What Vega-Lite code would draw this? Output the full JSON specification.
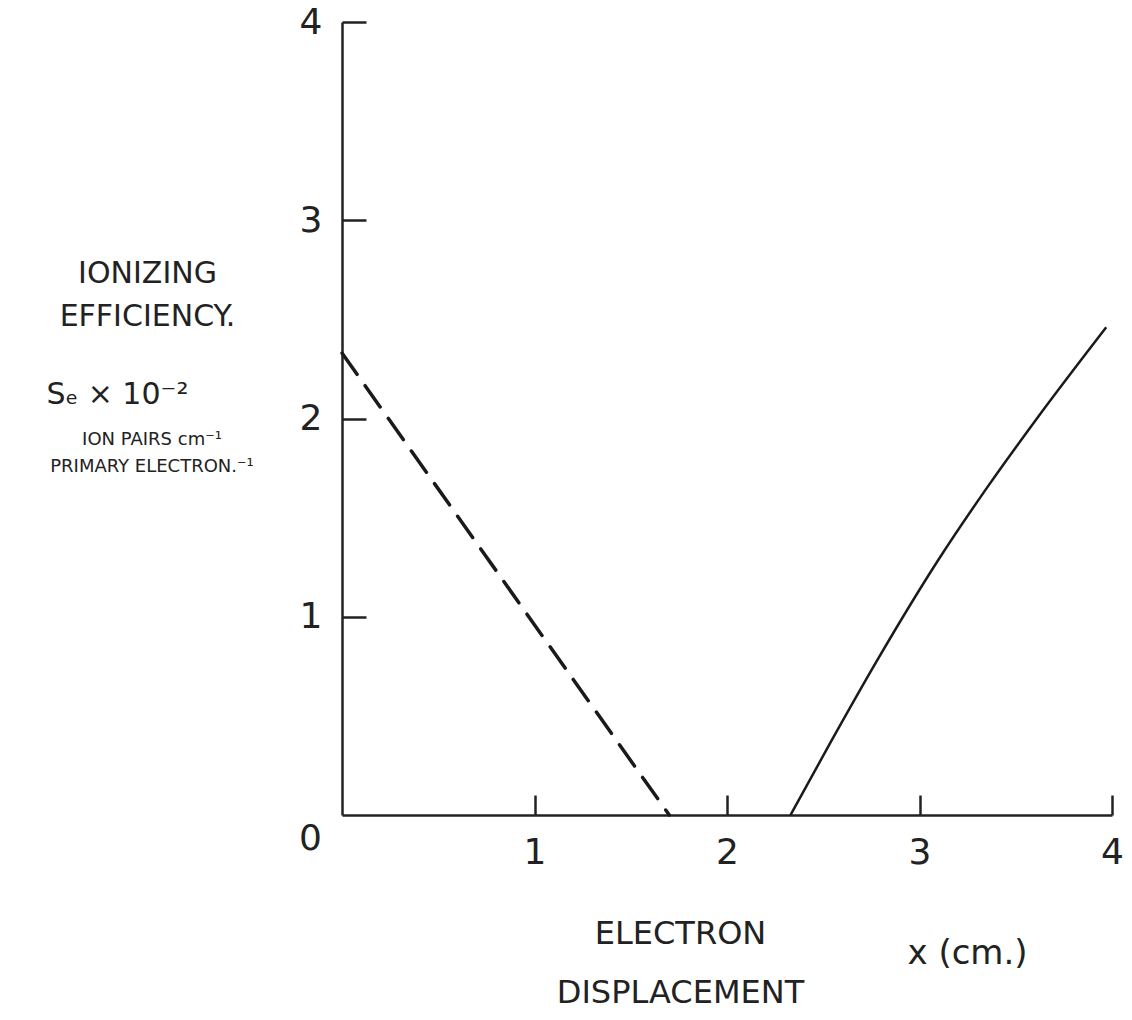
{
  "$schema": "https://vega.github.io/schema/vega-lite/v6.json",
  "width": 770,
  "height": 793,
  "autosize": "none",
  "padding": {"left": 342, "top": 22, "right": 20, "bottom": 205},
  "background": "white",
  "title": {
    "text": ["ION PAIRS cm⁻¹", "PRIMARY ELECTRON.⁻¹"],
    "orient": "top",
    "anchor": "start",
    "frame": "group",
    "align": "center",
    "baseline": "top",
    "offset": 0,
    "dx": -190,
    "dy": 472,
    "font": "DejaVu Sans",
    "fontSize": 18,
    "fontWeight": "normal",
    "lineHeight": 27,
    "color": "#222"
  },
  "config": {
    "view": {"stroke": null},
    "axis": {
      "grid": false,
      "domainColor": "#222",
      "domainWidth": 2.5,
      "tickColor": "#222",
      "tickWidth": 2.5,
      "labelColor": "#222",
      "titleColor": "#222",
      "labelFont": "DejaVu Sans",
      "titleFont": "DejaVu Sans",
      "titleFontWeight": "normal"
    }
  },
  "datasets": {
    "extrapolated": [
      {"x": 0, "y": 2.33},
      {"x": 1.7, "y": 0}
    ],
    "measured": [
      {"x": 2.33, "y": 0},
      {"x": 2.54, "y": 0.37},
      {"x": 2.78, "y": 0.78},
      {"x": 3.1, "y": 1.29},
      {"x": 3.35, "y": 1.65},
      {"x": 3.61, "y": 2.0},
      {"x": 3.97, "y": 2.46}
    ]
  },
  "resolve": {"axis": {"x": "independent", "y": "independent"}},
  "layer": [
    {
      "data": {"name": "extrapolated"},
      "mark": {"type": "line", "color": "#1a1a1a", "strokeWidth": 3.5, "strokeDash": [26, 14], "strokeCap": "round"},
      "encoding": {
        "x": {
          "field": "x", "type": "quantitative",
          "scale": {"domain": [0, 4], "nice": false},
          "axis": {
            "orient": "bottom",
            "values": [0, 1, 2, 3, 4],
            "format": "d",
            "tickSize": -20,
            "tickOpacity": {"condition": {"test": "datum.value === 0", "value": 0}, "value": 1},
            "labelFontSize": 36,
            "labelFlush": false,
            "labelOverlap": false,
            "labelPadding": {"condition": {"test": "datum.value === 0", "value": 26}, "value": 40},
            "labelOffset": {"condition": {"test": "datum.value === 0", "value": -32}, "value": 0},
            "title": ["ELECTRON", "DISPLACEMENT"],
            "titleFontSize": 32,
            "titleLineHeight": 59,
            "titleAlign": "center",
            "titleBaseline": "top",
            "titleX": 338,
            "titleY": 103
          }
        },
        "y": {
          "field": "y", "type": "quantitative",
          "scale": {"domain": [0, 4], "nice": false},
          "axis": {
            "orient": "left",
            "values": [1, 2, 3, 4],
            "format": "d",
            "tickSize": -24,
            "labelFontSize": 36,
            "labelPadding": 44,
            "labelOverlap": false,
            "title": ["IONIZING", "EFFICIENCY."],
            "titleAngle": 0,
            "titleAlign": "center",
            "titleBaseline": "top",
            "titleFontSize": 30,
            "titleLineHeight": 43,
            "titleX": -195,
            "titleY": 236
          }
        }
      }
    },
    {
      "data": {"name": "measured"},
      "mark": {"type": "line", "color": "#1a1a1a", "strokeWidth": 2.5, "interpolate": "monotone"},
      "encoding": {
        "x": {
          "field": "x", "type": "quantitative",
          "scale": {"domain": [0, 4], "nice": false},
          "axis": {
            "orient": "bottom",
            "domain": false,
            "ticks": false,
            "labels": false,
            "title": "x (cm.)",
            "titleFontSize": 34,
            "titleAlign": "center",
            "titleBaseline": "middle",
            "titleX": 625,
            "titleY": 138
          }
        },
        "y": {
          "field": "y", "type": "quantitative",
          "scale": {"domain": [0, 4], "nice": false},
          "axis": {
            "orient": "left",
            "domain": false,
            "ticks": false,
            "labels": false,
            "title": "Sₑ × 10⁻²",
            "titleAngle": 0,
            "titleAlign": "center",
            "titleBaseline": "middle",
            "titleFontSize": 30,
            "titleX": -225,
            "titleY": 372
          }
        }
      }
    }
  ]
}
